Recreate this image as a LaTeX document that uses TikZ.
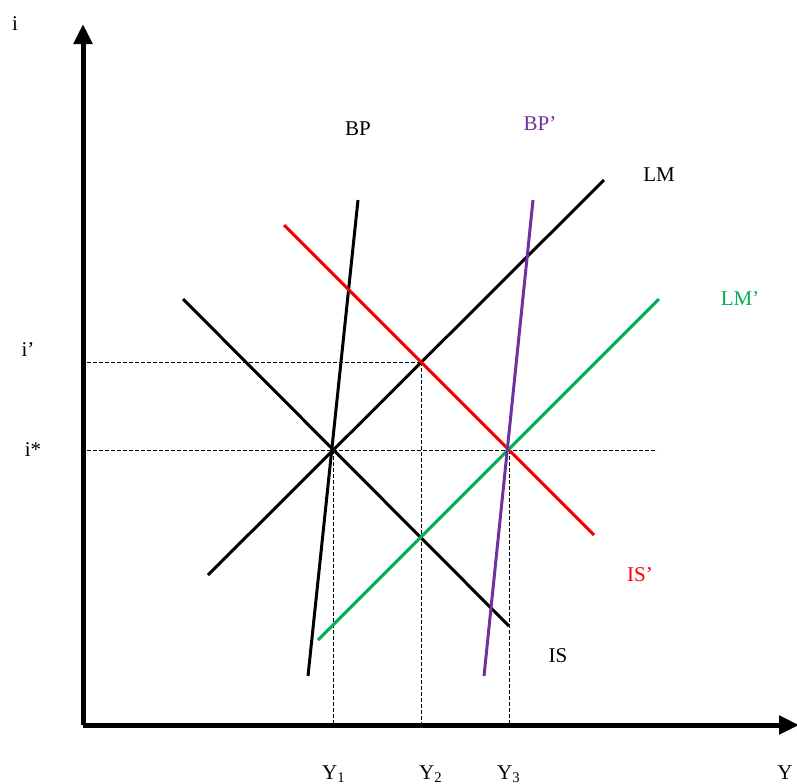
\documentclass[tikz,border=0pt]{standalone}
\usepackage{fontspec}
\setmainfont{Liberation Serif}
\usetikzlibrary{arrows.meta}
\definecolor{cred}{RGB}{245,0,0}
\definecolor{cpurple}{RGB}{112,48,160}
\definecolor{cgreen}{RGB}{0,176,80}
\tikzset{
  axis/.style={line width=2.5pt,-{Triangle[length=10pt,width=9pt]}},
  curve/.style={line width=1.5pt},
  guide/.style={dashed,line width=0.4pt,dash pattern=on 2pt off 1pt},
  lbl/.style={font=\fontsize{10.5}{12}\selectfont,inner sep=0pt}
}
\begin{document}
\begin{tikzpicture}[x=0.5pt,y=-0.5pt]
\useasboundingbox (0,0) rectangle (797,783);
% axes
\coordinate (O) at (83,725);
\coordinate (ytop) at (83,24);
\coordinate (xend) at (799,725);
\draw[axis] (O) -- (ytop);
\draw[axis] (O) -- (xend);
% curve endpoints
\coordinate (bpA) at (308,676); \coordinate (bpB) at (358,200);
\coordinate (bppA) at (484,676); \coordinate (bppB) at (533,200);
\coordinate (lmA) at (208,575); \coordinate (lmB) at (604,180);
\coordinate (lmpA) at (318,640); \coordinate (lmpB) at (659,299);
\coordinate (isA) at (183,299); \coordinate (isB) at (509,626);
\coordinate (ispA) at (284,225); \coordinate (ispB) at (594,535);
% intersections
\coordinate (E1) at (333,450);
\coordinate (E2) at (421,362);
\coordinate (E3) at (509,450);
\coordinate (iS) at (87,450); \coordinate (iSend) at (657,450);
\coordinate (iP) at (87,362);
\coordinate (y1) at (333,725); \coordinate (y2) at (421,725); \coordinate (y3) at (509,725);
% guides
\draw[guide] (iP) -- (E2);
\draw[guide] (iS) -- (iSend);
\draw[guide] (E1) -- (y1);
\draw[guide] (E2) -- (y2);
\draw[guide] (E3) -- (y3);
% curves
\draw[curve] (isA) -- (isB);
\draw[curve] (lmA) -- (lmB);
\draw[curve] (bpA) -- (bpB);
\draw[curve,cred] (ispA) -- (ispB);
\draw[curve,cgreen] (lmpA) -- (lmpB);
\draw[curve,cpurple] (bppA) -- (bppB);
% labels
\node[lbl] (li) at (15,24) {i};
\node[lbl] (lip) at (28,350) {i’};
\node[lbl] (lis) at (33,450) {i*};
\node[lbl,anchor=base] (lY1) at (334,779) {Y\textsubscript{1}};
\node[lbl,anchor=base] (lY2) at (431,779) {Y\textsubscript{2}};
\node[lbl,anchor=base] (lY3) at (509,779) {Y\textsubscript{3}};
\node[lbl] (lY) at (785,773) {Y};
\node[lbl] (lBP) at (358,129) {BP};
\node[lbl,text=cpurple] (lBPp) at (540,124) {BP’};
\node[lbl] (lLM) at (659,175) {LM};
\node[lbl,text=cgreen] (lLMp) at (740,299) {LM’};
\node[lbl,text=red] (lISp) at (640,575) {IS’};
\node[lbl] (lIS) at (558,656) {IS};
\end{tikzpicture}
\end{document}
